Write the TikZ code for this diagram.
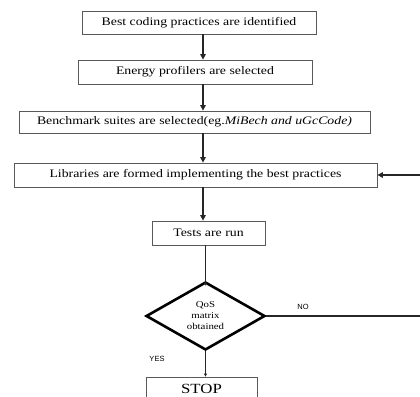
\documentclass[tikz,border=0pt]{standalone}
\usepackage{fontspec}
\setmainfont[FakeStretch=1.2]{Liberation Serif}
\newfontfamily\labfont{Liberation Sans}
\usetikzlibrary{shapes.geometric,arrows.meta}
\begin{document}
\begin{tikzpicture}[x=1pt,y=-1pt,
  box/.style={draw=black!65,line width=0.8pt,inner sep=0pt,font=\fontsize{11.5}{13}\selectfont},
  arr/.style={draw=black!85,line width=1.1pt,-{Triangle[length=5.5pt,width=5.5pt]}},
  tiny/.style={draw=black!85,line width=0.9pt,-{Triangle[length=3pt,width=3pt]}},
  lab/.style={font=\labfont\fontsize{7.5}{9}\selectfont,inner sep=0pt}]
\useasboundingbox (0,0) rectangle (420,396);
\coordinate (ax) at (203,0);
\node[box,minimum width=234pt,minimum height=23pt] (b1) at (199,22.5) {Best coding practices are identified};
\node[box,minimum width=234pt,minimum height=24pt] (b2) at (195,72) {Energy profilers are selected};
\node[box,minimum width=351pt,minimum height=22pt] (b3) at (194.5,122) {Benchmark suites are selected(eg.\textit{MiBech and uGcCode)}};
\node[box,minimum width=363pt,minimum height=24pt] (b4) at (195.5,175) {Libraries are formed implementing the best practices};
\node[box,minimum width=113pt,minimum height=24pt] (b5) at (208.5,233) {Tests are run};
\node[draw=black,line width=2.6pt,shape=diamond,minimum width=119pt,minimum height=68pt,inner sep=0pt,
  align=center,font=\fontsize{9}{11}\selectfont] (d) at (205.5,316) {QoS\\matrix\\obtained};
\node[box,minimum width=111pt,minimum height=24pt,font=\fontsize{14}{16}\selectfont] (stop) at (201.5,389) {STOP};
\coordinate (far) at (425,316);
\draw[arr] (b1.south -| ax) -- (b2.north -| ax);
\draw[arr] (b2.south -| ax) -- (b3.north -| ax);
\draw[arr] (b3.south -| ax) -- (b4.north -| ax);
\draw[arr] (b4.south -| ax) -- (b5.north -| ax);
\draw[tiny] (b5.south -| d.north) -- ([yshift=-5pt]d.north);
\draw[tiny] (d.south) -- (stop.north -| d.south);
\draw[arr] (d.east) -- (far) |- (b4.east);
\node[lab] (no) at (303,307) {NO};
\node[lab] (yes) at (157,359) {YES};
\end{tikzpicture}
\end{document}
